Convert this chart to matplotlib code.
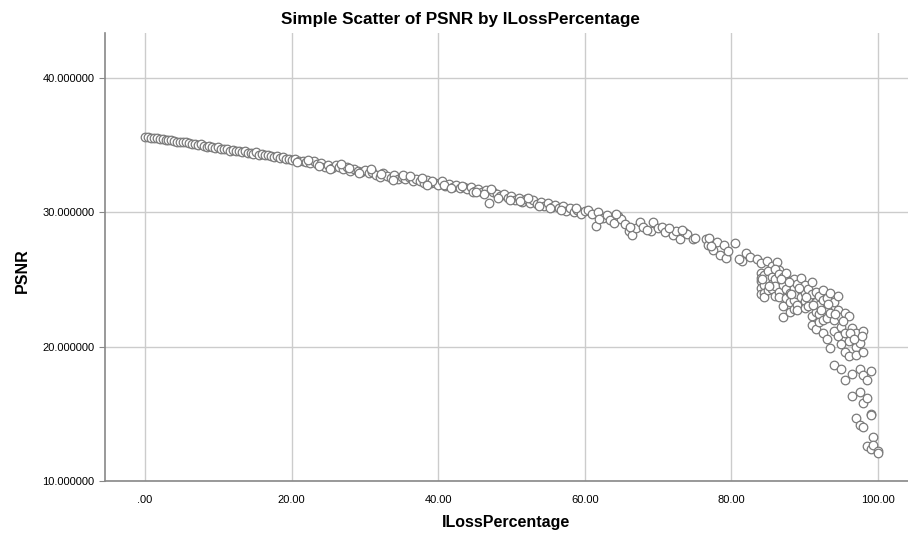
import matplotlib
matplotlib.use("Agg")
import matplotlib.pyplot as plt

plt.rcParams['font.family'] = ['Liberation Sans', 'DejaVu Sans']

# ILossPercentage (x) and PSNR (y)
loss_pct = [
    0.0, 0.4, 0.8, 1.2, 1.6, 2.0, 2.4, 2.8, 3.2, 3.6, 4.0, 4.4, 4.8, 5.2, 5.6,
    6.0, 6.4, 6.8, 7.2, 7.6, 8.0, 8.4, 8.8, 9.2, 9.6, 10.0, 10.4, 10.8, 11.2, 11.6,
    12.0, 12.4, 12.8, 13.2, 13.6, 14.0, 14.4, 14.8, 15.2, 15.6, 16.0, 16.4, 16.8,
    17.2, 17.6, 18.0, 18.4, 18.8, 19.2, 19.6,
    20.0, 20.5, 21.0, 21.5, 22.0, 22.5, 23.0, 23.5, 24.0, 24.5, 25.0, 25.5, 26.0,
    26.5, 27.0, 27.5, 28.0, 28.5, 29.0, 29.5, 30.0, 30.5, 31.0, 31.5, 32.0, 32.5,
    33.0, 33.5, 34.0, 34.5, 35.0, 35.5, 36.0, 36.5, 37.0, 37.5, 38.0, 38.5, 39.0,
    39.5, 40.0, 40.5, 41.0, 41.5, 42.0, 42.5, 43.0, 43.5, 44.0, 44.5, 45.0, 45.5,
    46.0, 46.5, 47.0, 47.5, 48.0, 48.5, 49.0, 49.5, 50.0, 50.5, 51.0, 51.5, 52.0,
    52.5, 53.0, 53.5, 54.0, 54.5, 55.0, 55.5, 56.0, 56.5, 57.0, 57.5, 58.0, 58.5,
    59.0, 59.5, 60.0,
    20.8, 22.2, 23.8, 25.2, 26.8, 27.8, 29.2, 30.8, 32.2, 33.8, 35.2, 36.2, 37.8,
    39.2, 40.8, 41.8, 43.2, 44.8, 46.2, 47.2, 48.2, 49.8, 51.2, 52.2, 53.8, 55.2,
    56.8, 58.8, 38.5, 45.2,
    60.5, 61.0, 61.5, 61.8, 62.5, 63.0, 63.5, 64.0, 64.5, 65.0, 65.5, 66.0, 66.5,
    67.0, 67.5, 68.0, 69.0, 69.3, 70.0, 70.5, 71.0, 72.0, 72.5, 73.0, 73.5, 74.0,
    74.7, 76.5, 76.8, 77.0, 77.5, 78.0, 78.5, 79.0, 79.3, 80.5, 81.5, 82.0, 82.5,
    83.5, 84.0, 84.8, 85.5, 86.2, 86.5,
    62.0, 64.2, 66.2, 68.5, 71.5, 73.2, 75.0, 77.2, 79.5, 81.0,
    84.0, 84.0, 84.0, 84.0, 84.0,
    84.5, 84.5, 84.5, 84.5,
    85.0, 85.0, 85.0,
    85.5, 85.5, 85.5,
    86.0, 86.0, 86.0, 86.0,
    86.5, 86.5, 86.5,
    87.0, 87.0, 87.0, 87.0,
    87.5, 87.5, 87.5,
    88.0, 88.0, 88.0, 88.0,
    88.5, 88.5, 88.5, 88.5,
    89.0, 89.0, 89.0, 89.0,
    89.5, 89.5, 89.5,
    90.0, 90.0, 90.0, 90.0,
    90.5, 90.5, 90.5,
    91.0, 91.0, 91.0, 91.0,
    91.5, 91.5, 91.5, 91.5,
    92.0, 92.0, 92.0, 92.0,
    92.5, 92.5, 92.5, 92.5,
    93.0, 93.0, 93.0, 93.0,
    93.4, 93.4, 93.4,
    94.0, 94.0, 94.0, 94.0,
    94.5, 94.5, 94.5,
    95.0, 95.0, 95.0, 95.0,
    95.5, 95.5, 95.5, 95.5,
    96.0, 96.0, 96.0,
    96.4, 96.4, 96.4,
    97.0, 97.0, 97.0, 97.0,
    97.5, 97.5, 97.5, 97.5,
    98.0, 98.0, 98.0, 98.0, 98.0,
    98.5, 98.5, 98.5,
    99.0, 99.0, 99.0, 99.0,
    99.3, 99.3,
    100.0, 100.0,
    84.2, 85.2, 86.8, 87.8, 88.2, 89.2, 90.2, 91.2, 92.2, 93.2, 94.2, 95.2, 96.2,
    96.8, 97.8,
]

psnr = [
    35.6, 35.6, 35.55, 35.5, 35.5, 35.45, 35.45, 35.4, 35.35, 35.35, 35.3, 35.25,
    35.25, 35.2, 35.2, 35.15, 35.1, 35.1, 35.0, 35.05, 34.95, 34.9, 34.95, 34.85,
    34.8, 34.85, 34.75, 34.7, 34.75, 34.6, 34.65, 34.55, 34.6, 34.5, 34.55, 34.4,
    34.45, 34.35, 34.5, 34.3, 34.35, 34.25, 34.3, 34.2, 34.15, 34.2, 34.05, 34.1,
    33.95, 34.0,
    33.9, 33.95, 33.8, 33.85, 33.75, 33.7, 33.8, 33.6, 33.65, 33.4, 33.55, 33.3,
    33.5, 33.35, 33.2, 33.4, 33.1, 33.25, 33.05, 33.0, 33.15, 32.9, 33.0, 32.8,
    32.65, 32.9, 32.7, 32.55, 32.75, 32.5, 32.6, 32.45, 32.6, 32.3, 32.5, 32.35,
    32.2, 32.4, 32.15, 32.2, 32.05, 32.3, 31.95, 32.1, 31.9, 32.0, 31.8, 31.85,
    31.75, 31.9, 31.6, 31.75, 31.5, 31.65, 30.7, 31.5, 31.35, 31.2, 31.4, 31.1,
    31.25, 30.95, 31.1, 30.8, 31.0, 30.7, 30.9, 30.6, 30.75, 30.5, 30.7, 30.4,
    30.55, 30.3, 30.45, 30.1, 30.3, 30.0, 30.2, 29.9, 30.1,
    33.75, 33.9, 33.45, 33.25, 33.6, 33.3, 32.9, 33.2, 32.85, 32.4, 32.75, 32.7,
    32.55, 32.35, 32.0, 31.8, 31.95, 31.5, 31.35, 31.7, 31.1, 30.95, 30.85, 31.05,
    30.45, 30.35, 30.2, 30.3, 32.0, 31.55,
    30.2, 29.9, 29.0, 30.0, 29.6, 29.8, 29.4, 29.2, 29.7, 29.5, 29.1, 28.6, 28.3,
    28.8, 29.3, 28.9, 28.6, 29.3, 28.8, 28.9, 28.5, 28.3, 28.6, 28.0, 28.5, 28.4,
    28.0, 28.0, 27.6, 28.1, 27.2, 27.8, 26.8, 27.6, 26.6, 27.7, 26.4, 27.0, 26.7,
    26.5, 26.2, 26.4, 26.0, 26.3, 25.7,
    29.5, 29.9, 28.9, 28.7, 28.8, 28.7, 28.1, 27.5, 27.1, 26.5,
    25.5, 24.9, 24.4, 23.9, 25.1,
    25.3, 24.6, 24.0, 23.7,
    25.6, 25.0, 24.2,
    25.2, 24.7, 24.3,
    25.8, 25.0, 24.5, 23.8,
    25.4, 24.1, 23.7,
    25.2, 24.6, 23.0, 22.2,
    25.5, 24.3, 23.6,
    24.9, 24.0, 23.3, 22.6,
    25.0, 24.4, 23.5, 22.8,
    24.7, 23.9, 23.1, 22.7,
    25.1, 24.2, 23.7,
    24.6, 24.0, 23.4, 22.9,
    24.3, 23.6, 23.0,
    24.8, 23.9, 22.3, 21.6,
    24.1, 23.3, 22.6, 21.3,
    23.8, 23.1, 22.4, 21.8,
    24.2, 23.5, 22.0, 21.0,
    23.6, 22.8, 22.1, 20.6,
    24.0, 22.5, 19.9,
    23.3, 22.0, 21.2, 18.6,
    23.8, 22.7, 20.8,
    22.2, 21.5, 20.2, 18.3,
    22.5, 21.0, 19.6, 17.5,
    22.3, 20.4, 19.3,
    21.4, 16.3, 18.0,
    21.0, 20.0, 19.4, 14.7,
    20.3, 18.3, 16.6, 14.2,
    21.2, 19.6, 17.9, 15.8, 14.0,
    17.5, 16.2, 12.6,
    18.2, 15.0, 14.9, 12.4,
    13.3, 12.7,
    12.2, 12.1,
    25.0, 24.5, 25.0, 24.8, 23.9, 24.4, 23.7, 23.1, 22.7, 23.2, 22.4, 21.9, 21.0,
    20.6, 20.8,
]

x_ticks = [0, 20, 40, 60, 80, 100]
x_tick_labels = ['.00', '20.00', '40.00', '60.00', '80.00', '100.00']
y_ticks = [10, 20, 30, 40]
y_tick_labels = ['10.000000', '20.000000', '30.000000', '40.000000']

fig = plt.figure(figsize=(9.08, 5.4), dpi=100)
ax = fig.add_axes([0.1156, 0.1093, 0.8844, 0.8296])

ax.scatter(loss_pct, psnr, s=38, facecolors='white', edgecolors='#7a7a7a',
           linewidths=0.9, zorder=3)

ax.set_xlim(-5.46, 104.1)
ax.set_ylim(10, 43.35)
ax.set_xticks(x_ticks)
ax.set_xticklabels(x_tick_labels)
ax.set_yticks(y_ticks)
ax.set_yticklabels(y_tick_labels)
ax.tick_params(axis='both', labelsize=8, length=4, color='#888888', width=0.8)
ax.tick_params(axis='x', length=0, pad=10)

ax.grid(True, color='#cccccc', linewidth=1.0, zorder=0)
ax.set_axisbelow(True)
for side in ['top', 'right']:
    ax.spines[side].set_visible(False)
ax.spines['left'].set_color('#888888')
ax.spines['bottom'].set_color('#888888')
ax.spines['left'].set_linewidth(1.2)
ax.spines['bottom'].set_linewidth(1.2)

ax.set_xlabel('ILossPercentage', fontsize=11.5, fontweight='bold')
ax.set_ylabel('PSNR', fontsize=11.5, fontweight='bold')
ax.xaxis.set_label_coords(0.5, -0.077)
ax.yaxis.set_label_coords(-0.094, 0.47)
fig.text(0.507, 0.963, 'Simple Scatter of PSNR by ILossPercentage', fontsize=12.3,
         fontweight='bold', ha='center', va='center')

fig.savefig('out.png', dpi=100)
